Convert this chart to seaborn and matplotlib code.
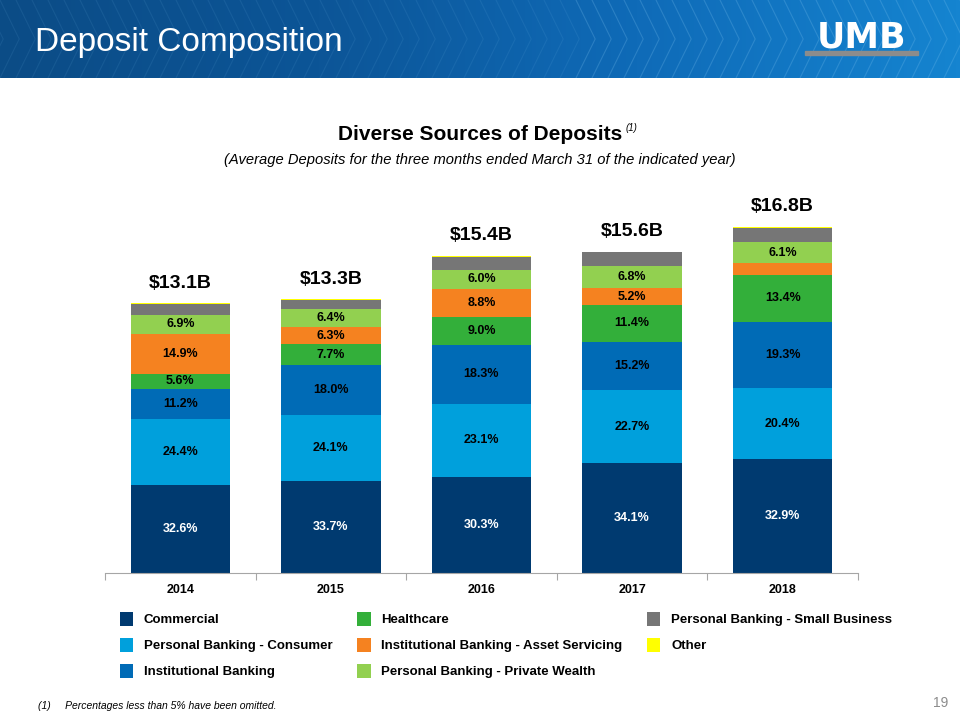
import numpy as np
import pandas as pd
import matplotlib
matplotlib.use("Agg")
import matplotlib.pyplot as plt
from matplotlib.patches import Patch, Rectangle
import seaborn as sns

years = ["2014", "2015", "2016", "2017", "2018"]
totals = [13.1, 13.3, 15.4, 15.6, 16.8]
total_labels = ["$13.1B", "$13.3B", "$15.4B", "$15.6B", "$16.8B"]

series_names = [
    "Commercial",
    "Personal Banking - Consumer",
    "Institutional Banking",
    "Healthcare",
    "Institutional Banking - Asset Servicing",
    "Personal Banking - Private Wealth",
    "Personal Banking - Small Business",
    "Other",
]
# percent of total deposits per year (values < 5% estimated from bar heights, not labelled)
commercial = [32.6, 33.7, 30.3, 34.1, 32.9]
consumer = [24.4, 24.1, 23.1, 22.7, 20.4]
institutional = [11.2, 18.0, 18.3, 15.2, 19.3]
healthcare = [5.6, 7.7, 9.0, 11.4, 13.4]
asset_servicing = [14.9, 6.3, 8.8, 5.2, 3.4]
private_wealth = [6.9, 6.4, 6.0, 6.8, 6.1]
small_business = [4.1, 3.5, 4.2, 4.3, 4.2]
other = [0.3, 0.3, 0.3, 0.3, 0.3]

series_values = [commercial, consumer, institutional, healthcare,
                 asset_servicing, private_wealth, small_business, other]
series_colors = ["#003A70", "#00A0DC", "#006BB6", "#33AF3A",
                 "#F58220", "#92D050", "#767676", "#FFFF00"]
label_colors = ["white", "black", "black", "black", "black", "black", "black", "black"]

sns.set_style("white")
plt.rcParams["font.family"] = ["Liberation Sans", "DejaVu Sans"]
plt.rcParams["text.color"] = "black"
plt.rcParams["xtick.color"] = "black"

fig = plt.figure(figsize=(9.6, 7.2), dpi=100)

# header band
hdr = fig.add_axes([0, 1 - 78 / 720, 1, 78 / 720])
grad = np.linspace(0, 1, 256).reshape(1, -1)
cmap = matplotlib.colors.LinearSegmentedColormap.from_list(
    "hdr", ["#0B4C86", "#0C5597", "#0F6BB8", "#1584D0"])
hdr.imshow(grad, aspect="auto", cmap=cmap, extent=[0, 1, 0, 1])
for k in np.linspace(-0.1, 1.05, 70):
    a = 0.10 if k < 0.6 else 0.25
    hdr.plot([k, k + 0.02, k], [0, 0.5, 1], color="#7FC4F0", lw=0.8, alpha=a)
hdr.set_xlim(0, 1)
hdr.set_ylim(0, 1)
hdr.axis("off")
fig.text(35 / 960, 1 - 42 / 720, "Deposit Composition", color="white",
         fontsize=24, va="center", ha="left")
fig.text(862 / 960, 1 - 38 / 720, "UMB", color="white", fontsize=25,
         fontweight="heavy", va="center", ha="center", family=["DejaVu Sans"])
fig.patches.append(Rectangle((805 / 960, 1 - 55 / 720), 113 / 960, 4 / 720,
                             transform=fig.transFigure, color="#8C8C8C"))

# chart
ax = fig.add_axes([105 / 960, 1 - 573 / 720, 753 / 960, 373 / 720])
bottom = np.zeros(len(years))
for name, vals, col, lc in zip(series_names, series_values, series_colors, label_colors):
    amt = np.array(vals) / 100 * np.array(totals)
    sns.barplot(x=years, y=amt, bottom=bottom, color=col, width=0.66,
                ax=ax, saturation=1, linewidth=0)
    for i, v in enumerate(vals):
        if v >= 5:
            ax.text(i, bottom[i] + amt[i] / 2, f"{v:.1f}%", ha="center", va="center",
                    fontsize=9, fontweight="bold", color=lc)
    bottom = bottom + amt

for i, t in enumerate(total_labels):
    ax.text(i, totals[i] + 0.55, t, ha="center", va="bottom", fontsize=14,
            fontweight="bold", color="black")

ax.set_xlim(-0.5, 4.5)
ax.set_ylim(0, 18.1)
ax.set_yticks([])
ax.set_xlabel("")
ax.set_ylabel("")
for s in ["top", "right", "left"]:
    ax.spines[s].set_visible(False)
ax.spines["bottom"].set_color("#A6A6A6")
ax.set_xticks(range(len(years)))
ax.set_xticklabels(years, fontsize=9, fontweight="bold")
ax.set_xticks(np.arange(-0.5, 5, 1), minor=True)
ax.tick_params(axis="x", which="major", length=0, pad=8)
ax.tick_params(axis="x", which="minor", bottom=True, length=5, width=0.8,
               color="#A6A6A6", direction="out")

# titles
fig.text(0.5, 1 - 135 / 720, "Diverse Sources of Deposits", ha="center", va="center",
         fontsize=15, fontweight="bold")
fig.text(626 / 960, 1 - 128 / 720, "(1)", ha="left", va="center", fontsize=7, style="italic")
fig.text(0.5, 1 - 160 / 720,
         "(Average Deposits for the three months ended March 31 of the indicated year)",
         ha="center", va="center", fontsize=10.6, style="italic")

# legend
handles = [Patch(facecolor=c, edgecolor="none") for c in series_colors]
fig.legend(handles, series_names, ncol=3, loc="upper left",
           bbox_to_anchor=(108 / 960, 1 - 600 / 720), frameon=False,
           handlelength=1.0, handleheight=1.3, handletextpad=0.8,
           columnspacing=1.9, labelspacing=0.85,
           prop={"size": 9.5, "weight": "bold"})

fig.text(38 / 960, 1 - 706 / 720, "(1)     Percentages less than 5% have been omitted.",
         ha="left", va="center", fontsize=7.5, style="italic")
fig.text(948 / 960, 1 - 703 / 720, "19", ha="right", va="center", fontsize=10,
         color="#8C8C8C")

fig.savefig("out.png", dpi=100)
